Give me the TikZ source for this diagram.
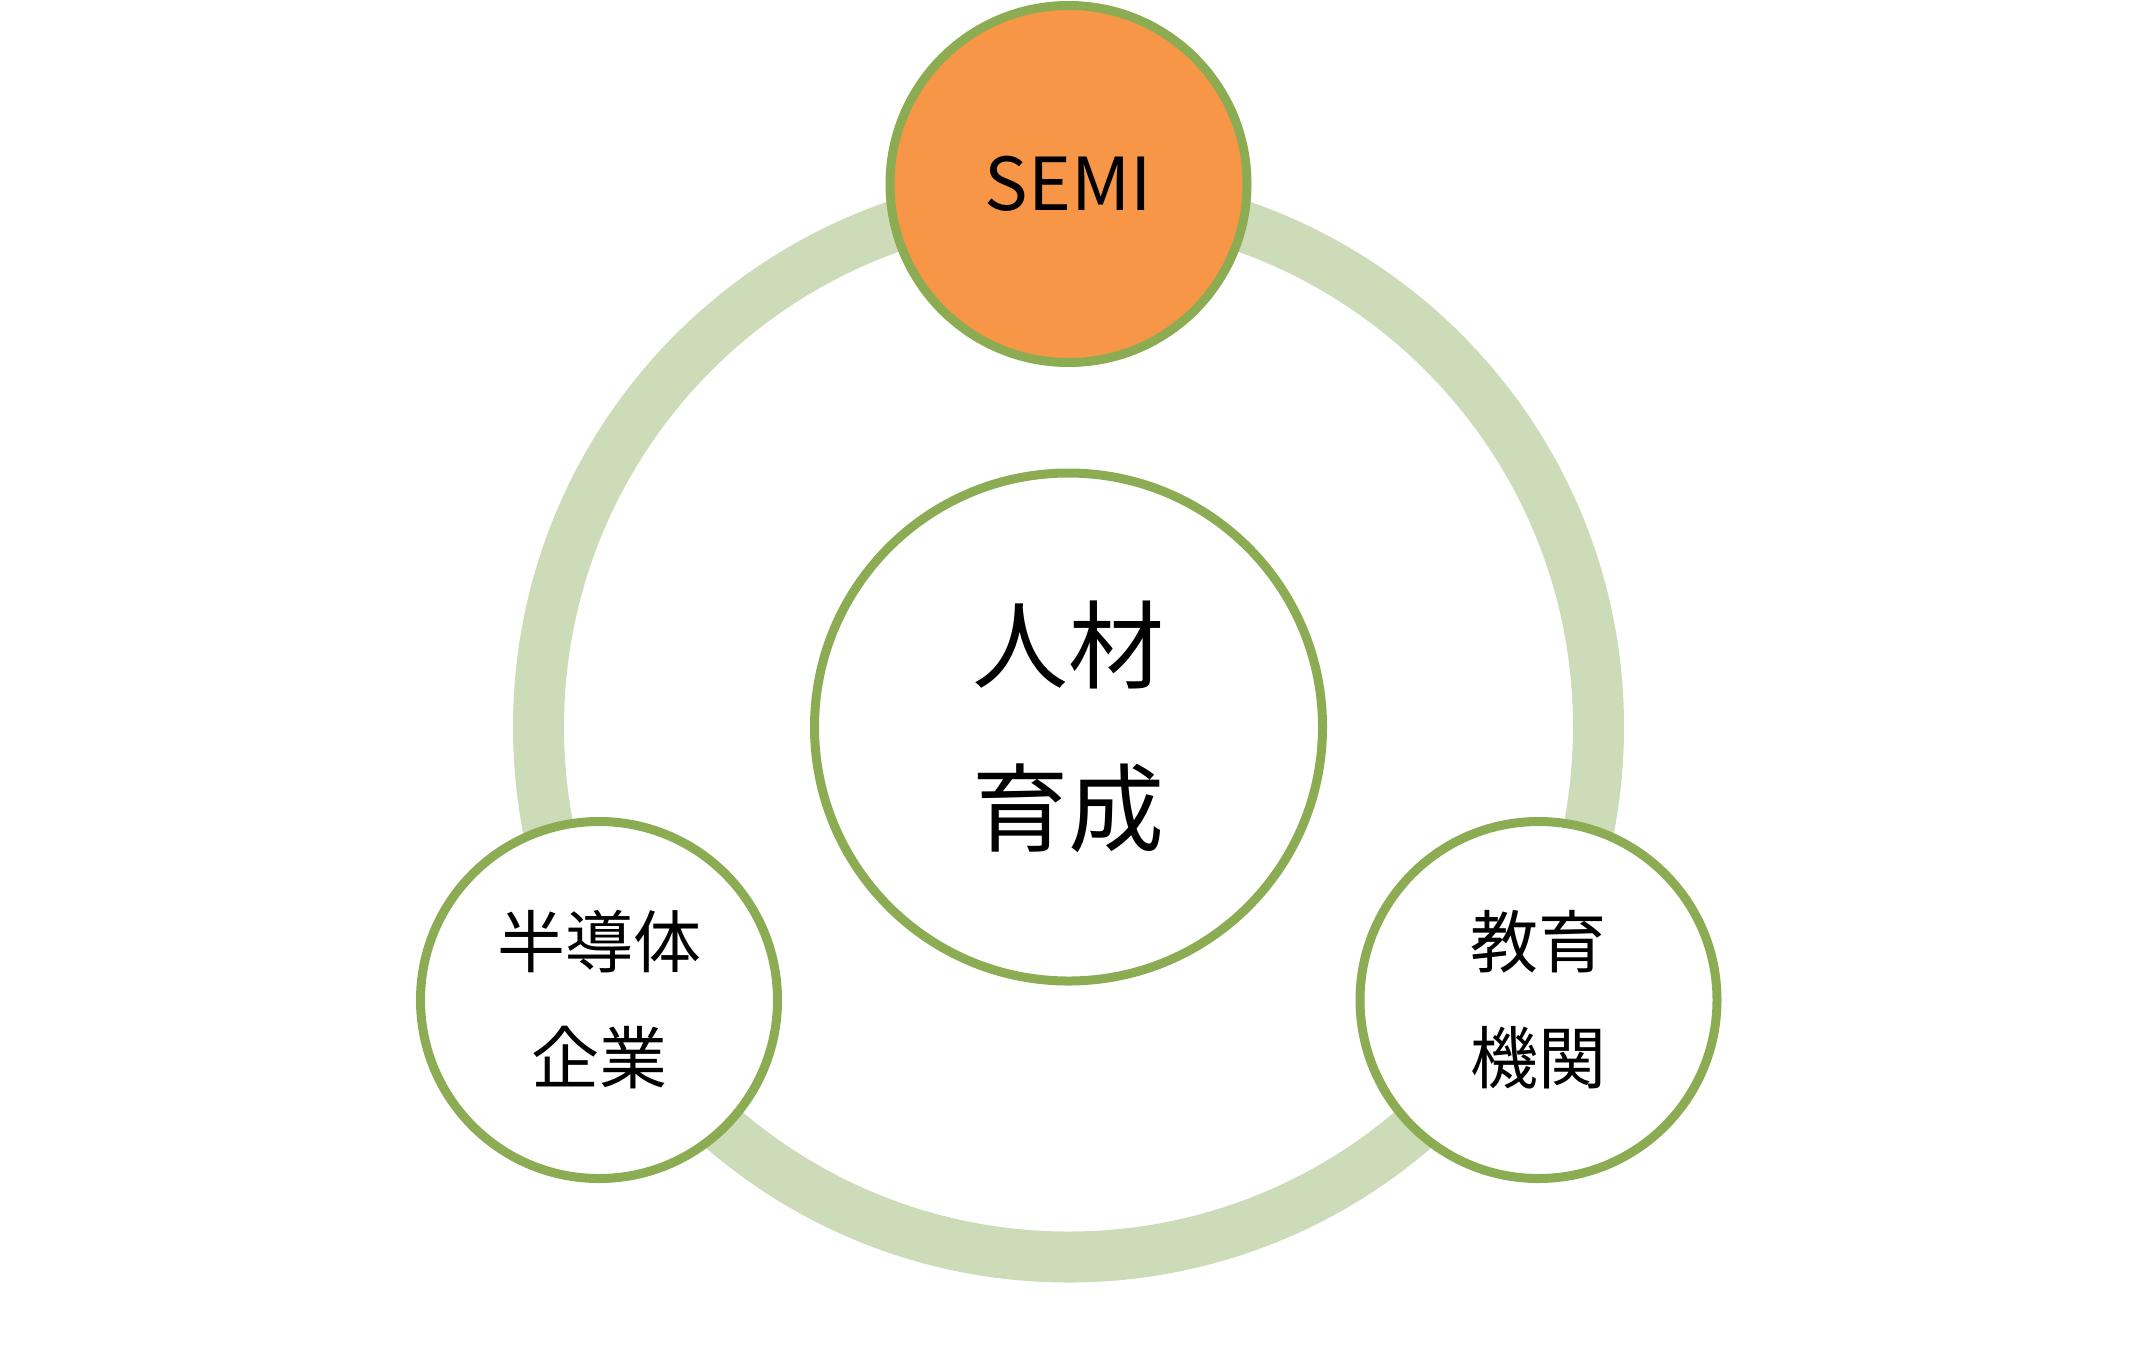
\documentclass[tikz,border=0pt]{standalone}
\usepackage{fontspec}
\newfontfamily\cjk{Noto Sans CJK JP}
\definecolor{ringgreen}{RGB}{205,220,184}
\definecolor{bordergreen}{RGB}{139,172,82}
\definecolor{semiorange}{RGB}{247,150,70}
\tikzset{
  bubble/.style={circle, draw=bordergreen, line width=9pt, fill=white, inner sep=0pt, align=center, text=black},
  small/.style={bubble, minimum size=357pt, font=\cjk\fontsize{68}{116}\selectfont},
}
\begin{document}
\begin{tikzpicture}[x=1pt,y=-1pt]
\useasboundingbox (0,0) rectangle (2140,1361);
\coordinate (c) at (1068.5,727);
\draw[ringgreen, line width=51pt] (c) circle [radius=530];
\node[bubble, minimum size=508pt, font=\cjk\fontsize{96}{163}\selectfont] (hr) at (c) {人材\\育成};
\node[bubble, fill=semiorange, minimum size=357pt, font=\cjk\fontsize{73}{88}\selectfont] (semi) at (1068.5,184) {SEMI};
\node[small] (corp) at (599,1000) {半導体\\企業};
\node[small] (edu) at (1538.5,1000) {教育\\機関};
\end{tikzpicture}
\end{document}
